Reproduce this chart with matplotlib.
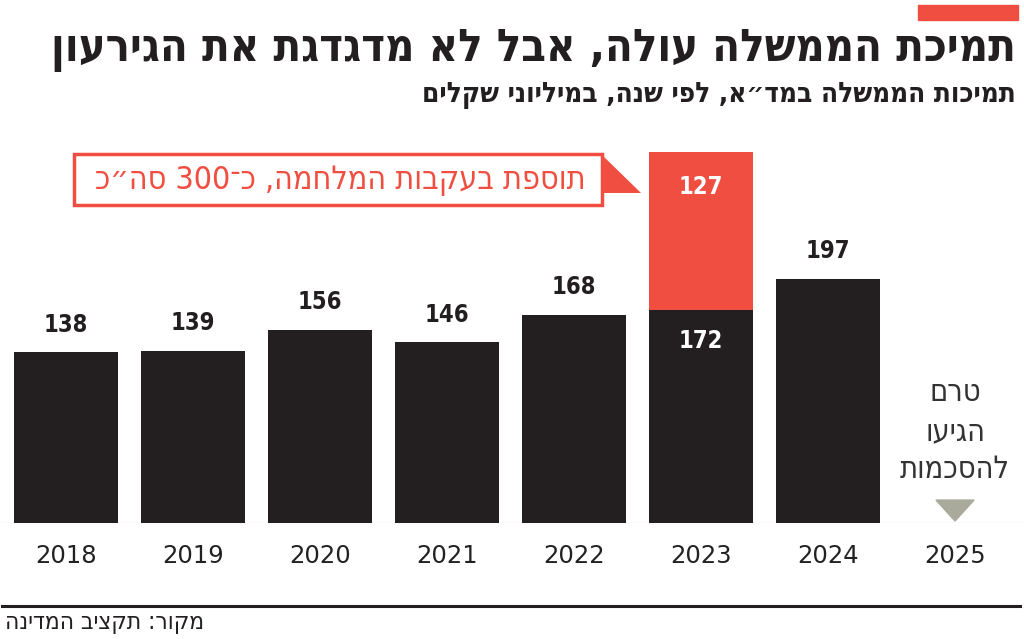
import re
import matplotlib
matplotlib.use("Agg")
import matplotlib.pyplot as plt
from matplotlib.patches import Rectangle, Polygon

years = ["2018", "2019", "2020", "2021", "2022", "2023", "2024", "2025"]
base_values = [138, 139, 156, 146, 168, 172, 197]
war_extra = [0, 0, 0, 0, 0, 127, 0]

title = "תמיכת הממשלה עולה, אבל לא מדגדגת את הגירעון"
subtitle = "תמיכות הממשלה במד״א, לפי שנה, במיליוני שקלים"
note_text = "תוספת בעקבות המלחמה, כ־300 סה״כ"
pending_lines = ["טרם", "הגיעו", "להסכמות"]
source = "מקור: תקציב המדינה"

BLACK = "#231f20"
RED = "#f04e40"
GRAY_TRI = "#a9a99c"


def rtl(s):
    # matplotlib has no bidi: reverse for visual order, keep numbers LTR
    r = s[::-1]
    return re.sub(r"\d+", lambda m: m.group(0)[::-1], r)


plt.rcParams['font.family'] = ['DejaVu Sans']
cond = dict(fontstretch='condensed')

fig = plt.figure(figsize=(10.24, 6.39), dpi=100)
px_w, px_h = 1024, 639

# axes: baseline at y=523px, top at y=140px
ax = fig.add_axes([0, (px_h - 523) / px_h, 1, (523 - 140) / px_h])
ax.set_xlim(-66 / 127, (1024 - 66) / 127)
ax.set_ylim(0, (523 - 140) / 1.24)
ax.axis("off")

x = list(range(len(base_values)))
ax.axhline(0, color="#e6e6e6", lw=1, zorder=0)
ax.bar(x, base_values, width=0.82, color=BLACK, zorder=2)
ax.bar(x, war_extra, bottom=base_values, width=0.82, color=RED, zorder=2)

for i, (b, e) in enumerate(zip(base_values, war_extra)):
    if e:
        ax.text(i, b - 25, str(b), ha="center", va="center", color="white",
                fontsize=17, fontweight="bold", **cond)
        ax.text(i, b + e - 28, str(e), ha="center", va="center", color="white",
                fontsize=17, fontweight="bold", **cond)
    else:
        ax.text(i, b + 22, str(b), ha="center", va="center", color=BLACK,
                fontsize=17, fontweight="bold", **cond)

# 2025: no data yet
i25 = len(years) - 1
for k, line in enumerate(pending_lines):
    ax.text(i25, 105 - k * 31, rtl(line), ha="center", va="center",
            color="#333333", fontsize=22, **cond)
ax.add_patch(Polygon([(i25 - 0.15, 18.5), (i25 + 0.15, 18.5), (i25, 1.6)],
                     closed=True, color=GRAY_TRI, zorder=3))

for i, y in enumerate(years):
    fig.text((66 + 127 * i) / px_w, 1 - 556 / px_h, y, ha="center", va="center",
             fontsize=17.5, color="#222222")

# annotation box with flag pointer
def fx(p):
    return p / px_w


def fy(p):
    return 1 - p / px_h


fig.patches.append(Rectangle((fx(74), fy(205)), fx(602) - fx(74), fy(154) - fy(205),
                             transform=fig.transFigure, facecolor="white",
                             edgecolor=RED, lw=2.5, zorder=5))
fig.patches.append(Polygon([(fx(601), fy(154)), (fx(641), fy(193)), (fx(601), fy(193))],
                           closed=True, transform=fig.transFigure, facecolor=RED,
                           edgecolor="none", zorder=5))
fig.text(fx(340), fy(180), rtl(note_text), ha="center", va="center", color=RED,
         fontsize=23, zorder=6, **cond)

# header
fig.patches.append(Rectangle((fx(918), fy(20)), fx(100), fy(5) - fy(20),
                             transform=fig.transFigure, color=RED))
fig.text(fx(1016), fy(50), rtl(title), ha="right", va="center", fontsize=32.5,
         fontweight="bold", color=BLACK, **cond)
fig.text(fx(1016), fy(95), rtl(subtitle), ha="right", va="center", fontsize=20,
         fontweight="bold", color=BLACK, **cond)

# footer
fig.add_artist(plt.Line2D([fx(2), fx(1020)], [fy(606), fy(606)], color=BLACK, lw=2.2))
fig.text(fx(5), fy(622), rtl(source), ha="left", va="center", fontsize=17.5,
         color=BLACK, **cond)

fig.savefig("out.png", dpi=100)
